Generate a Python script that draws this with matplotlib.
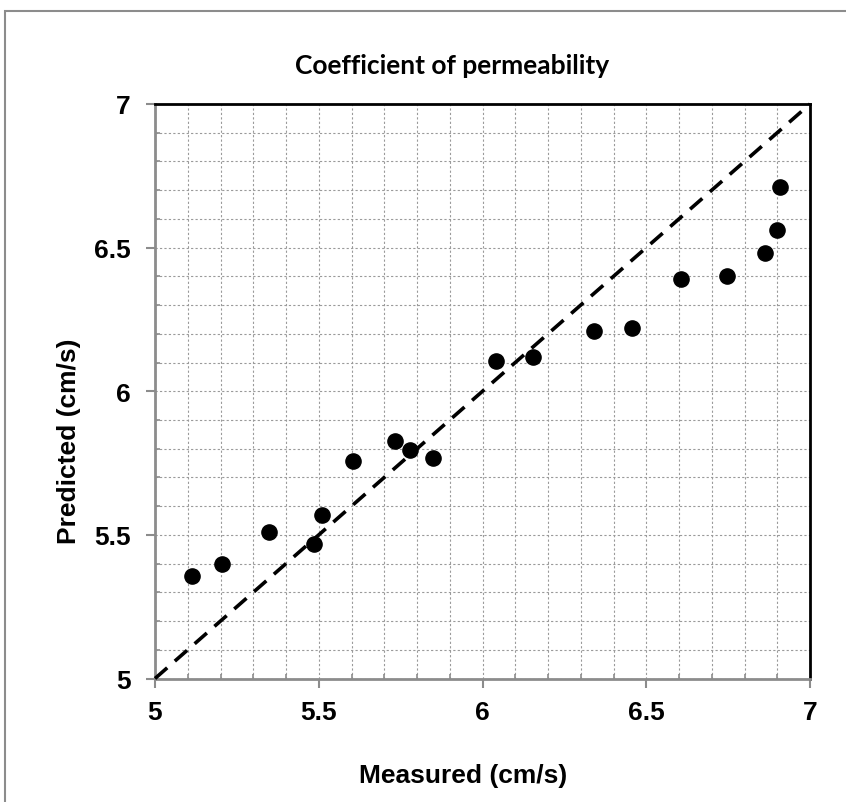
import matplotlib
matplotlib.use("Agg")
import matplotlib.pyplot as plt
from matplotlib.ticker import MultipleLocator
from matplotlib.patches import Rectangle

# measured vs predicted coefficient of permeability
measured = [5.112, 5.206, 5.347, 5.486, 5.511, 5.605, 5.734, 5.779, 5.850,
            6.040, 6.153, 6.339, 6.456, 6.606, 6.746, 6.863, 6.898, 6.908]
predicted = [5.356, 5.398, 5.510, 5.468, 5.569, 5.757, 5.826, 5.794, 5.767,
             6.106, 6.118, 6.211, 6.219, 6.390, 6.401, 6.481, 6.562, 6.711]
ref_line = [5, 7]
tick_vals = [5, 5.5, 6, 6.5, 7]
tick_text = ["5", "5.5", "6", "6.5", "7"]

plt.rcParams['font.family'] = ['Liberation Sans', 'DejaVu Sans']

fig = plt.figure(figsize=(8.46, 8.03), dpi=100)
ax = fig.add_axes([155/846, 1 - 679.5/803, (810 - 155)/846, (679.5 - 105)/803])

# outer chart border (only top/left visible)
fig.patches.append(Rectangle((5/846, -0.1), 1.2, (803 - 12)/803 + 0.1,
                             transform=fig.transFigure, fill=False,
                             edgecolor='#8c8c8c', linewidth=1.5))

ax.set_xlim(5, 7)
ax.set_ylim(5, 7)
ax.xaxis.set_minor_locator(MultipleLocator(0.1))
ax.yaxis.set_minor_locator(MultipleLocator(0.1))
ax.set_xticks(tick_vals)
ax.set_xticklabels(tick_text)
ax.set_yticks(tick_vals)
ax.set_yticklabels(tick_text)

ax.grid(which='both', color='#9a9a9a', linestyle=(0, (2, 2)), linewidth=0.8)
ax.set_axisbelow(True)

for s in ['left', 'bottom']:
    ax.spines[s].set_color('#8c8c8c')
    ax.spines[s].set_linewidth(2)
for s in ['top', 'right']:
    ax.spines[s].set_color('black')
    ax.spines[s].set_linewidth(2)

ax.tick_params(which='major', direction='out', length=6.5, width=1.5, color='#8c8c8c',
               labelsize=19)
ax.tick_params(which='minor', direction='in', length=3.6, width=1.2, color='#8c8c8c')
ax.tick_params(axis='x', which='major', pad=9)
ax.tick_params(axis='y', which='major', pad=11)
for lab in ax.get_xticklabels() + ax.get_yticklabels():
    lab.set_fontweight('bold')

ax.plot(ref_line, ref_line, color='black', linestyle=(0, (4.5, 2.8)), linewidth=2.6,
        zorder=3, clip_on=False)
ax.scatter(measured, predicted, s=120, color='black', zorder=4, clip_on=False)

fig.text(463/846, 1 - 776/803, "Measured (cm/s)", ha='center', va='center',
         fontsize=19, fontweight='bold')
fig.text(69/846, 1 - 441/803, "Predicted (cm/s)", ha='center', va='center',
         rotation=90, fontsize=19, fontweight='bold')
fig.text(452/846, 1 - 66/803, "Coefficient of permeability", ha='center', va='center',
         fontsize=19, fontweight='bold', family=['Lato', 'DejaVu Sans'])

fig.savefig("out.png", dpi=100)
